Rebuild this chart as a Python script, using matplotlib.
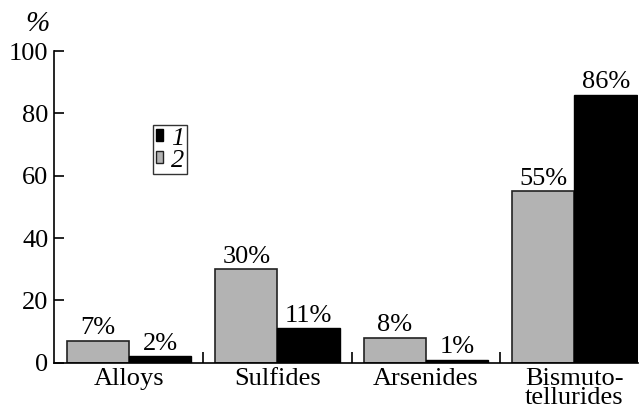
import matplotlib
matplotlib.use("Agg")
import matplotlib.pyplot as plt
from matplotlib.patches import Patch
import numpy as np

plt.rcParams['font.family'] = ['Liberation Serif', 'DejaVu Serif']

categories = ["Alloys", "Sulfides", "Arsenides", "Bismuto-\ntellurides"]
series2 = [7, 30, 8, 55]   # gray bars
series1 = [2, 11, 1, 86]   # black bars
labels2 = ["7%", "30%", "8%", "55%"]
labels1 = ["2%", "11%", "1%", "86%"]
yticks = [0, 20, 40, 60, 80, 100]

FS = 19
GRAY = "#b3b3b3"

fig = plt.figure(figsize=(6.4, 4.12), dpi=100)
ax = fig.add_axes([54 / 640, 1 - 362.7 / 412, 584 / 640, (362.7 - 51) / 412])

x = np.arange(len(categories))
w = 0.42
b2 = ax.bar(x - w / 2, series2, width=w, color=GRAY, edgecolor="#222222", linewidth=1.2, zorder=2)
b1 = ax.bar(x + w / 2, series1, width=w, color="black", edgecolor="black", linewidth=1.0, zorder=2)

for rect, lab in zip(b2, labels2):
    ax.annotate(lab, (rect.get_x() + rect.get_width() / 2, rect.get_height()),
                xytext=(0, 1), textcoords="offset points", ha="center", va="bottom", fontsize=FS)
for rect, lab in zip(b1, labels1):
    ax.annotate(lab, (rect.get_x() + rect.get_width() / 2, rect.get_height()),
                xytext=(0, 1), textcoords="offset points", ha="center", va="bottom", fontsize=FS)

ax.set_xlim(-0.505, 3.428)
ax.set_ylim(0, 100)

ax.spines['top'].set_visible(False)
ax.spines['right'].set_visible(False)
for s in ('left', 'bottom'):
    ax.spines[s].set_linewidth(1.2)

ax.set_yticks(yticks)
ax.set_yticklabels([str(v) for v in yticks], fontsize=FS)
ax.tick_params(axis='y', direction='in', length=7, width=1.2, pad=4)

ax.set_xticks(x)
ax.set_xticklabels(categories, fontsize=FS, linespacing=0.8)
ax.tick_params(axis='x', which='major', length=0, pad=4)
ax.set_xticks([0.5, 1.5, 2.5], minor=True)
ax.tick_params(axis='x', which='minor', direction='in', length=8, width=1.2)

ax.text(37.5 / 640, 1 - 24 / 412, "%", transform=fig.transFigure, fontsize=21,
        ha="center", va="center", style="italic")

handles = [Patch(facecolor="black", edgecolor="black"),
           Patch(facecolor=GRAY, edgecolor="#222222", linewidth=1.0)]
leg = ax.legend(handles, ["1", "2"], loc="upper left",
                bbox_to_anchor=((153 - 54) / 584, (362.7 - 125) / 311.7),
                borderaxespad=0, frameon=True, fancybox=False, edgecolor="black",
                handlelength=0.28, handleheight=0.28, handletextpad=0.3,
                borderpad=0.1, labelspacing=0.0,
                prop={"size": FS, "style": "italic"})
leg.get_frame().set_linewidth(1.0)

fig.savefig("out.png", dpi=100)
